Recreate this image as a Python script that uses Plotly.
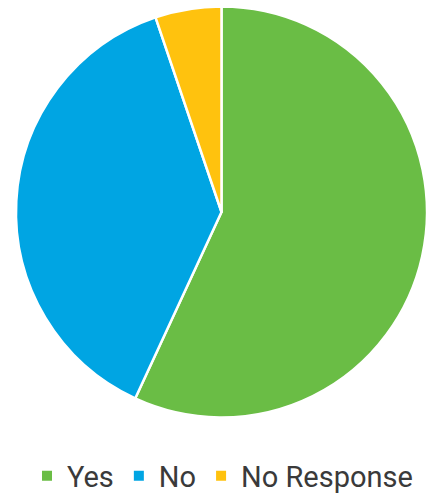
import plotly.graph_objects as go

labels = ["Yes", "No", "No Response"]
values = [56.9, 37.9, 5.2]
colors = ["#6abd45", "#00a5e3", "#ffc20e"]

W, H = 445, 499

fig = go.Figure(
    go.Pie(
        labels=labels,
        values=values,
        sort=False,
        direction="clockwise",
        rotation=0,
        marker=dict(colors=colors, line=dict(color="white", width=2.5)),
        textinfo="none",
        hoverinfo="label+percent",
        domain=dict(x=[16 / W, 427 / W], y=[1 - 418 / H, 1 - 6 / H]),
    )
)

fig.update_layout(
    width=W,
    height=H,
    margin=dict(l=0, r=0, t=0, b=0, autoexpand=False),
    paper_bgcolor="white",
    plot_bgcolor="white",
    showlegend=True,
    legend=dict(
        orientation="h",
        x=0.5,
        xanchor="center",
        y=1 - 476 / H,
        yanchor="middle",
        font=dict(family="Roboto", size=29, color="#3a3a3a"),
        itemsizing="constant",
        traceorder="normal",
    ),
)

fig.write_html("out.html")
